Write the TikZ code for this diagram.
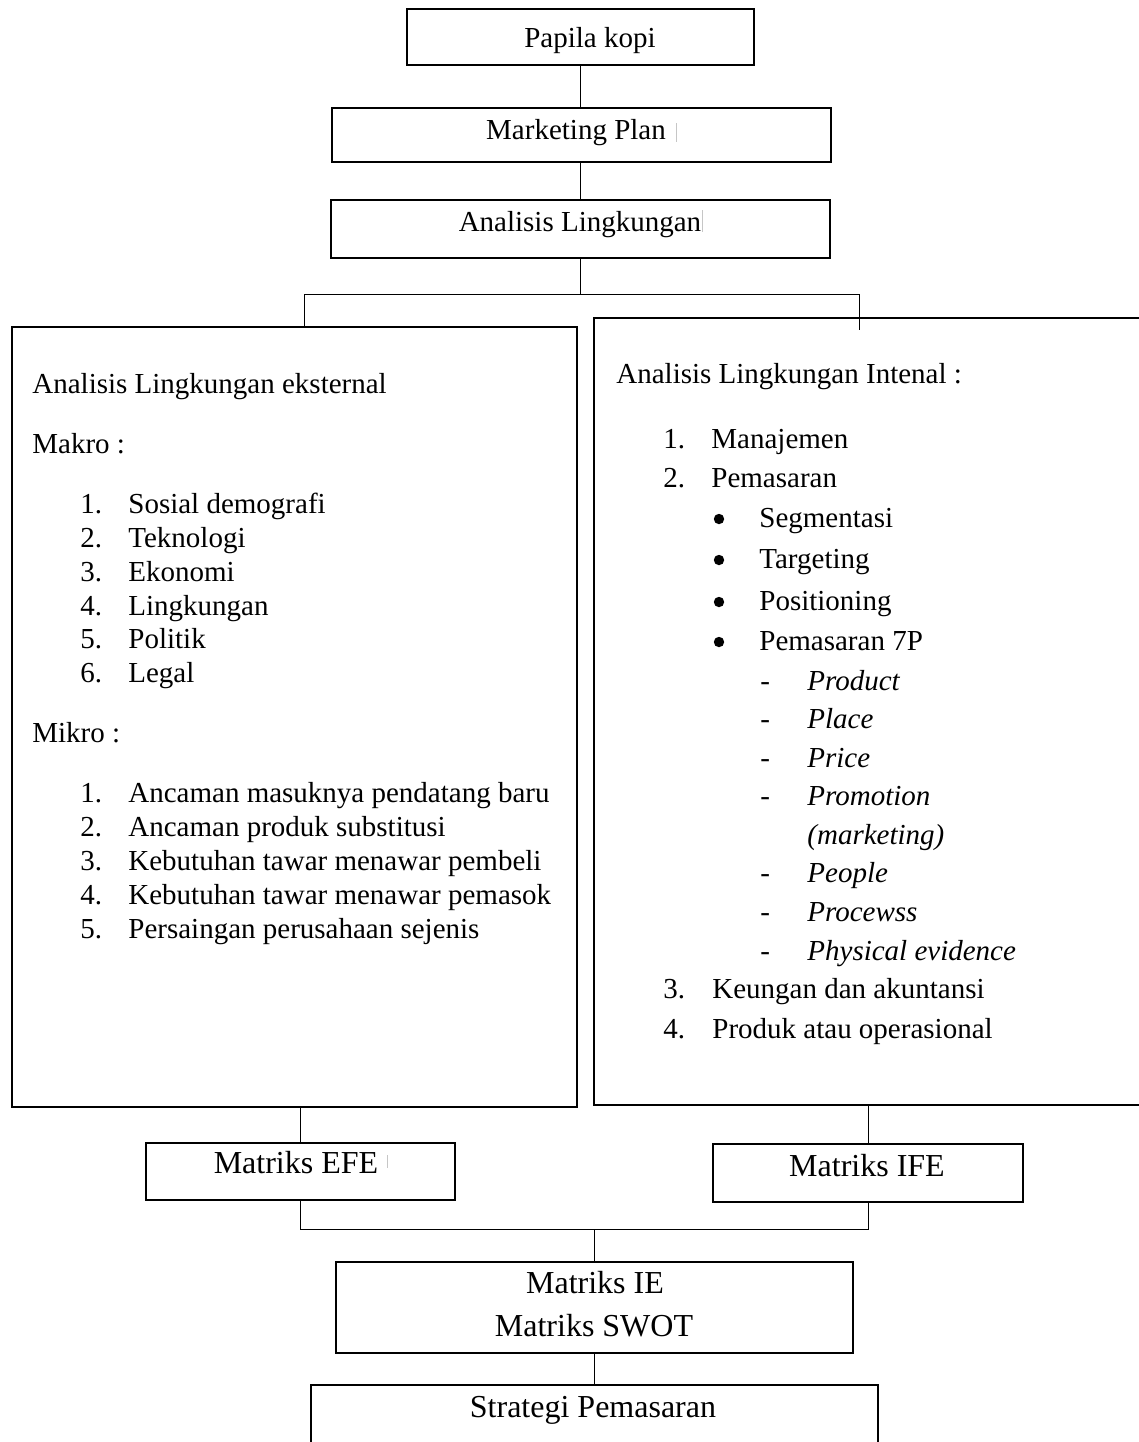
\documentclass[tikz,border=0pt]{standalone}
\usepackage{fontspec}
\setmainfont{Liberation Serif}
\begin{document}
\begin{tikzpicture}[x=0.5pt,y=-0.5pt,
  box/.style={draw, line width=1pt, rectangle, inner sep=0pt},
  conn/.style={line width=0.5pt},
  txt/.style={inner sep=0pt, anchor=base, font=\fontsize{14.5pt}{17pt}\selectfont},
  btxt/.style={inner sep=0pt, anchor=base, font=\fontsize{16pt}{19pt}\selectfont},
  ltxt/.style={inner sep=0pt, anchor=base west, font=\fontsize{14.5pt}{17pt}\selectfont},
  itxt/.style={ltxt, font=\fontsize{14.5pt}{17pt}\selectfont\itshape},
  dot/.style={circle, fill=black, inner sep=0pt, minimum size=5.2pt},
  cursorbar/.style={gray!45, line width=0.4pt}]
\useasboundingbox (0,0) rectangle (1139,1442);
\fill[white] (0,0) rectangle (1139,1442);

% top boxes
\node[box, minimum width=173.5pt, minimum height=28pt] (papila) at (580.5,37) {};
\node[box, minimum width=249.5pt, minimum height=27pt] (mplan) at (581.5,135) {};
\node[box, minimum width=249.5pt, minimum height=29pt] (anl) at (580.5,229) {};
\node[txt] (papilat) at (590,47) {Papila kopi};
\node[txt] (mplant) at (576,139) {Marketing Plan};
\node[txt] (anlt) at (580,231) {Analisis Lingkungan};

% big boxes
\node[box, minimum width=282.5pt, minimum height=390pt] (leftbox) at (294.5,717) {};
\node[box, minimum width=278pt, minimum height=393.5pt] (rightbox) at (872,711.5) {};

% bottom boxes
\node[box, minimum width=154.5pt, minimum height=28.5pt] (efe) at (300.5,1171) {};
\node[box, minimum width=155pt, minimum height=29pt] (ife) at (868,1173) {};
\node[box, minimum width=258.5pt, minimum height=45.5pt] (ie) at (594.5,1307.5) {};
\node[box, minimum width=283.5pt, minimum height=47.5pt] (strat) at (594,1432.5) {};
\node[btxt] (efet) at (296,1173) {Matriks EFE};
\node[btxt] (ifet) at (867,1176) {Matriks IFE};
\node[btxt] (iet) at (595,1293) {Matriks IE};
\node[btxt] (swott) at (594,1336) {Matriks SWOT};
\node[btxt] (stratt) at (593,1417) {Strategi Pemasaran};

% connectors top
\draw[conn] (papila.south) -- (papila.south |- mplan.north);
\draw[conn] (mplan.south -| anl.north) -- (anl.north);
\coordinate (j1) at (580.5,294);
\coordinate (jL) at (304,294);
\coordinate (jR) at (859,294);
\coordinate (jRend) at (859,330);
\draw[conn] (anl.south) -- (j1);
\draw[conn] (jL |- leftbox.north) -- (jL) -- (jR) -- (jRend);

% connectors bottom
\draw[conn] (efe.north |- leftbox.south) -- (efe.north);
\draw[conn] (ife.north |- rightbox.south) -- (ife.north);
\coordinate (k1) at (300,1229);
\draw[conn] (efe.south) -- (efe.south |- k1) -- (ife.south |- k1) -- (ife.south);
\draw[conn] (ie.north |- k1) -- (ie.north);
\draw[conn] (ie.south) -- (ie.south |- strat.north);

% small marks
\draw[cursorbar] (676,123) -- (676,142);
\draw[cursorbar] (702,210) -- (702,232);
\draw[cursorbar] (387,1155) -- (387,1168);

% left box text
\node[ltxt] (le0) at (32,393) {Analisis Lingkungan eksternal};
\node[ltxt] (le1) at (32,453) {Makro :};
\node[ltxt] (ma1n) at (80,513) {1.};  \node[ltxt] (ma1) at (128,513) {Sosial demografi};
\node[ltxt] (ma2n) at (80,547) {2.};  \node[ltxt] (ma2) at (128,547) {Teknologi};
\node[ltxt] (ma3n) at (80,581) {3.};  \node[ltxt] (ma3) at (128,581) {Ekonomi};
\node[ltxt] (ma4n) at (80,615) {4.};  \node[ltxt] (ma4) at (128,615) {Lingkungan};
\node[ltxt] (ma5n) at (80,648) {5.};  \node[ltxt] (ma5) at (128,648) {Politik};
\node[ltxt] (ma6n) at (80,682) {6.};  \node[ltxt] (ma6) at (128,682) {Legal};
\node[ltxt] (le2) at (32,742) {Mikro :};
\node[ltxt] (mi1n) at (80,802) {1.};  \node[ltxt] (mi1) at (128,802) {Ancaman masuknya pendatang baru};
\node[ltxt] (mi2n) at (80,836) {2.};  \node[ltxt] (mi2) at (128,836) {Ancaman produk substitusi};
\node[ltxt] (mi3n) at (80,870) {3.};  \node[ltxt] (mi3) at (128,870) {Kebutuhan tawar menawar pembeli};
\node[ltxt] (mi4n) at (80,904) {4.};  \node[ltxt] (mi4) at (128,904) {Kebutuhan tawar menawar pemasok};
\node[ltxt] (mi5n) at (80,938) {5.};  \node[ltxt] (mi5) at (128,938) {Persaingan perusahaan sejenis};

% right box text
\node[ltxt] (ri0) at (616,383) {Analisis Lingkungan Intenal :};
\node[ltxt] (r1n) at (663,448) {1.}; \node[ltxt] (r1) at (711,448) {Manajemen};
\node[ltxt] (r2n) at (663,487) {2.}; \node[ltxt] (r2) at (711,487) {Pemasaran};
\node[dot] (b1n) at (719,519) {}; \node[ltxt] (b1) at (759,527) {Segmentasi};
\node[dot] (b2n) at (719,560) {}; \node[ltxt] (b2) at (759,568) {Targeting};
\node[dot] (b3n) at (719,602) {}; \node[ltxt] (b3) at (759,610) {Positioning};
\node[dot] (b4n) at (719,642) {}; \node[ltxt] (b4) at (759,650) {Pemasaran 7P};
\node[ltxt] (d1n) at (760,690) {-}; \node[itxt] (d1) at (807,690) {Product};
\node[ltxt] (d2n) at (760,728) {-}; \node[itxt] (d2) at (807,728) {Place};
\node[ltxt] (d3n) at (760,767) {-}; \node[itxt] (d3) at (807,767) {Price};
\node[ltxt] (d4n) at (760,805) {-}; \node[itxt] (d4) at (807,805) {Promotion};
\node[itxt] (d4b) at (807,844) {(marketing)};
\node[ltxt] (d5n) at (760,882) {-}; \node[itxt] (d5) at (807,882) {People};
\node[ltxt] (d6n) at (760,921) {-}; \node[itxt] (d6) at (807,921) {Procewss};
\node[ltxt] (d7n) at (760,960) {-}; \node[itxt] (d7) at (807,960) {Physical evidence};
\node[ltxt] (r3n) at (663,998) {3.}; \node[ltxt] (r3) at (712,998) {Keungan dan akuntansi};
\node[ltxt] (r4n) at (663,1038) {4.}; \node[ltxt] (r4) at (712,1038) {Produk atau operasional};
\end{tikzpicture}
\end{document}
